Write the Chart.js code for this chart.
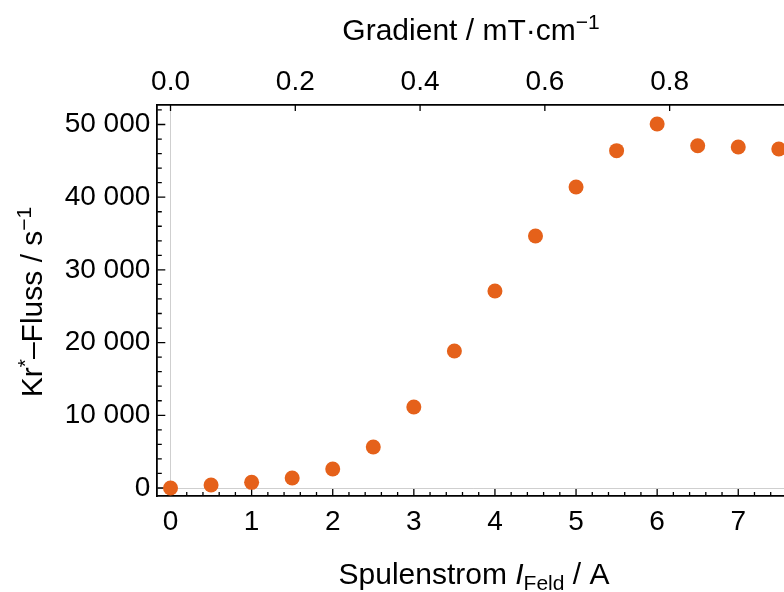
<!DOCTYPE html>
<html><head><meta charset="utf-8">
<script src="https://cdn.jsdelivr.net/npm/chart.js@4/dist/chart.umd.min.js"></script>
<style>
html,body{margin:0;padding:0;background:#fff;overflow:hidden}
#wrap{width:784px;height:592px;overflow:hidden;position:relative;background:#fff}
#c{position:absolute;left:0;top:0}
</style></head><body>
<div id="wrap"><canvas id="c" width="800" height="592"></canvas></div>
<script>
// ---- data ----
const coilCurrent = [0, 0.5, 1, 1.5, 2, 2.5, 3, 3.5, 4, 4.5, 5, 5.5, 6, 6.5, 7, 7.5];
const krFlux = [0, 410, 780, 1380, 2610, 5640, 11140, 18850, 27100, 34660, 41400, 46400, 50070, 47080, 46900, 46630];
const xTickLabels = [0, 1, 2, 3, 4, 5, 6, 7];
const yTickLabels = [0, 10000, 20000, 30000, 40000, 50000];
const gradientTickLabels = [0.0, 0.2, 0.4, 0.6, 0.8];
const gradientPerAmp = 0.13; // mT/cm per A

const FONT = "'Liberation Sans', Arial, Helvetica, sans-serif";
const TICK_SIZE = 28, TITLE_SIZE = 30;
const X_MIN = -0.163, X_MAX = 7.638, Y_MIN = -1100, Y_MAX = 52680;

function fmtThousands(v) {
  const s = Math.round(v).toString();
  return s.replace(/\B(?=(\d{3})+(?!\d))/g, ' ');
}

const inwardTicks = {
  id: 'inwardTicks',
  beforeDatasetsDraw(chart) {
    const ctx = chart.ctx, ca = chart.chartArea;
    const xs = chart.scales.x, ys = chart.scales.y, xt = chart.scales.x2;
    ctx.save();
    ctx.strokeStyle = '#000';
    ctx.lineWidth = 1.3;
    ctx.beginPath();
    for (let i = 1; i * 0.2 <= X_MAX + 1e-9; i++) {
      const v = i * 0.2;
      const px = xs.getPixelForValue(v);
      const major = Math.abs(v - Math.round(v)) < 1e-6;
      const len = major ? 7 : 4;
      ctx.moveTo(px, ca.bottom); ctx.lineTo(px, ca.bottom - len);
    }
    { const px = xs.getPixelForValue(0); ctx.moveTo(px, ca.bottom); ctx.lineTo(px, ca.bottom - 7); }
    for (let v = 0; v <= Y_MAX; v += 2000) {
      const py = ys.getPixelForValue(v);
      const major = v % 10000 === 0;
      const len = major ? 8 : 4.5;
      ctx.moveTo(ca.left, py); ctx.lineTo(ca.left + len, py);
    }
    gradientTickLabels.forEach(g => {
      const px = xt.getPixelForValue(g);
      ctx.moveTo(px, ca.top); ctx.lineTo(px, ca.top + 6);
    });
    ctx.stroke();
    ctx.restore();
  }
};

const axisTitles = {
  id: 'axisTitles',
  afterDraw(chart) {
    const ctx = chart.ctx;
    ctx.save();
    ctx.fillStyle = '#000';
    ctx.textBaseline = 'alphabetic';
    const reg = TITLE_SIZE + 'px ' + FONT;
    const sup = Math.round(TITLE_SIZE * 0.7) + 'px ' + FONT;
    const ita = 'italic ' + TITLE_SIZE + 'px ' + FONT;
    function measure(parts) {
      let w = 0;
      parts.forEach(p => { ctx.font = p.f; w += ctx.measureText(p.t).width; });
      return w;
    }
    function drawParts(parts, x, y) {
      parts.forEach(p => {
        ctx.font = p.f;
        ctx.fillText(p.t, x, y + (p.dy || 0));
        x += ctx.measureText(p.t).width;
      });
    }
    const top = [
      { t: 'Gradient / mT\u00B7cm', f: reg },
      { t: '\u22121', f: sup, dy: -11 }
    ];
    let w = measure(top);
    drawParts(top, 471 - w / 2, 40);
    const bot = [
      { t: 'Spulenstrom ', f: reg },
      { t: 'I', f: ita },
      { t: 'Feld', f: sup, dy: 6 },
      { t: ' / A', f: reg }
    ];
    w = measure(bot);
    drawParts(bot, 474 - w / 2, 584);
    const left = [
      { t: 'Kr', f: reg },
      { t: '*', f: sup, dy: -10 },
      { t: '\u2013Fluss / s', f: reg },
      { t: '\u22121', f: sup, dy: -11 }
    ];
    w = measure(left);
    ctx.translate(42, 302);
    ctx.rotate(-Math.PI / 2);
    drawParts(left, -w / 2, 0);
    ctx.restore();
  }
};

const tickFont = { family: FONT, size: TICK_SIZE };

new Chart(document.getElementById('c'), {
  type: 'scatter',
  data: {
    datasets: [{
      data: coilCurrent.map((x, i) => ({ x: x, y: krFlux[i] })),
      backgroundColor: '#E5611A',
      borderWidth: 0,
      pointRadius: 7.5,
      pointHoverRadius: 7.5
    }]
  },
  options: {
    responsive: false,
    animation: false,
    devicePixelRatio: 1,
    layout: { padding: { left: 0, right: 10, top: 0, bottom: 0 } },
    plugins: { legend: { display: false }, tooltip: { enabled: false } },
    scales: {
      x: {
        type: 'linear', position: 'bottom', min: X_MIN, max: X_MAX,
        afterFit(s) { s.height = 96; },
        afterBuildTicks(s) { s.ticks = xTickLabels.map(v => ({ value: v })); },
        ticks: { font: tickFont, color: '#000', padding: 9, maxRotation: 0, autoSkip: false, callback: v => String(v) },
        grid: { drawTicks: false, lineWidth: 1, color: c => (c.tick && c.tick.value === 0) ? '#cfcfcf' : 'rgba(0,0,0,0)' },
        border: { display: true, color: '#000', width: 1.8 }
      },
      x2: {
        type: 'linear', position: 'top', min: X_MIN * gradientPerAmp, max: X_MAX * gradientPerAmp,
        afterFit(s) { s.height = 105; },
        afterBuildTicks(s) { s.ticks = gradientTickLabels.map(v => ({ value: v })); },
        ticks: { font: tickFont, color: '#000', padding: 6, maxRotation: 0, autoSkip: false, callback: v => v.toFixed(1) },
        grid: { display: false, drawTicks: false },
        border: { display: true, color: '#000', width: 1.8 }
      },
      y: {
        type: 'linear', position: 'left', min: Y_MIN, max: Y_MAX,
        afterFit(s) { s.width = 157.3; },
        afterBuildTicks(s) { s.ticks = yTickLabels.map(v => ({ value: v })); },
        ticks: { font: tickFont, color: '#000', padding: 7, autoSkip: false, callback: v => fmtThousands(v) },
        grid: { drawTicks: false, lineWidth: 1, color: c => (c.tick && c.tick.value === 0) ? '#cfcfcf' : 'rgba(0,0,0,0)' },
        border: { display: true, color: '#000', width: 1.8 }
      }
    }
  },
  plugins: [inwardTicks, axisTitles]
});
</script>
</body></html>
